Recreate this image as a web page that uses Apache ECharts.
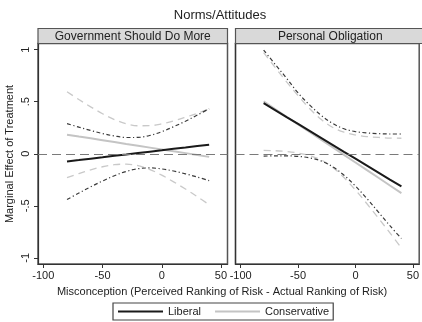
<!DOCTYPE html>
<html>
<head>
<meta charset="utf-8">
<script src="https://cdn.jsdelivr.net/npm/echarts@6/dist/echarts.min.js"></script>
<style>html,body{margin:0;padding:0;background:#fff;}#c{width:422px;height:322px;}</style>
</head>
<body>
<div id="c"></div>
<script>
// ---- data ----
const xs = [-80,-70,-60,-50,-40,-30,-20,-10,0,10,20,30,40];
// Panel 1: Government Should Do More
const govLib   = [-0.074,-0.061,-0.047,-0.034,-0.020,-0.007,0.007,0.020,0.033,0.047,0.060,0.074,0.087];
const govLibHi = [0.290,0.256,0.224,0.194,0.171,0.156,0.157,0.176,0.212,0.260,0.313,0.372,0.433];
const govLibLo = [-0.440,-0.378,-0.318,-0.262,-0.211,-0.170,-0.144,-0.136,-0.146,-0.166,-0.193,-0.224,-0.259];
const govCon   = [0.183,0.165,0.148,0.130,0.112,0.094,0.077,0.059,0.041,0.023,0.006,-0.012,-0.030];
const govConHi = [0.596,0.521,0.451,0.385,0.329,0.288,0.269,0.270,0.288,0.316,0.351,0.389,0.430];
const govConLo = [-0.230,-0.191,-0.155,-0.125,-0.105,-0.100,-0.115,-0.152,-0.206,-0.270,-0.339,-0.413,-0.490];
// Panel 2: Personal Obligation
const perLib   = [0.487,0.420,0.353,0.287,0.220,0.153,0.086,0.019,-0.047,-0.114,-0.181,-0.248,-0.314];
const perLibHi = [0.997,0.860,0.726,0.585,0.470,0.370,0.292,0.240,0.213,0.200,0.193,0.190,0.190];
const perLibLo = [-0.023,-0.020,-0.020,-0.025,-0.039,-0.069,-0.124,-0.206,-0.311,-0.431,-0.561,-0.692,-0.815];
const perCon   = [0.503,0.430,0.356,0.283,0.209,0.136,0.063,-0.011,-0.084,-0.158,-0.231,-0.305,-0.378];
const perConHi = [0.973,0.831,0.691,0.559,0.435,0.331,0.255,0.207,0.181,0.165,0.157,0.151,0.149];
const perConLo = [0.033,0.029,0.021,0.007,-0.017,-0.059,-0.129,-0.229,-0.349,-0.481,-0.619,-0.761,-0.905];

const panelTitles = ['Government Should Do More', 'Personal Obligation'];
const yTicks = [-1, -0.5, 0, 0.5, 1];
const yTickLabels = ['-1', '-.5', '0', '.5', '1'];
const xTicks = [-100, -50, 0, 50];
const seriesNames = ['Liberal', 'Conservative'];

// ---- chart ----
const FONT = '"Liberation Sans", Arial, Helvetica, sans-serif';
const pair = arr => xs.map((x, i) => [x, arr[i]]);
const chart = echarts.init(document.getElementById('c'), null, {renderer: 'canvas'});

const G = [
  {left: 38, top: 43.5, width: 189.5, height: 220.5},
  {left: 235.5, top: 43.5, width: 189.5, height: 220.5}
];

function xAxisFor(i) {
  return {
    type: 'value', gridIndex: i, min: -104.5, max: 55.5,
    axisLine: {show: true, onZero: false, lineStyle: {color: '#333', width: 1.2}},
    axisTick: {show: true, customValues: xTicks, length: 4, lineStyle: {color: '#333'}},
    axisLabel: {show: true, customValues: xTicks, margin: 6, fontSize: 11, color: '#222', fontFamily: FONT,
      formatter: v => String(v)},
    splitLine: {show: false}
  };
}
function yAxisFor(i) {
  return {
    type: 'value', gridIndex: i, min: -1.06, max: 1.06,
    axisLine: {show: true, onZero: false, lineStyle: {color: '#333', width: 1.2}},
    axisTick: {show: i === 0, customValues: yTicks, length: 4, lineStyle: {color: '#333'}},
    axisLabel: {show: i === 0, customValues: yTicks, rotate: 90, margin: 7, fontSize: 11, color: '#222', fontFamily: FONT,
      formatter: v => { const k = yTicks.findIndex(t => Math.abs(t - v) < 1e-6); return k >= 0 ? yTickLabels[k] : ''; }},
    splitLine: {show: false}
  };
}

const series = [];
const panels = [
  {lib: govLib, libHi: govLibHi, libLo: govLibLo, con: govCon, conHi: govConHi, conLo: govConLo},
  {lib: perLib, libHi: perLibHi, libLo: perLibLo, con: perCon, conHi: perConHi, conLo: perConLo}
];
panels.forEach((p, i) => {
  const base = {type: 'line', xAxisIndex: i, yAxisIndex: i, showSymbol: false, symbol: 'none', silent: true, animation: false};
  // zero reference line
  series.push(Object.assign({}, base, {
    name: 'zero' + i, data: [],
    markLine: {silent: true, symbol: ['none', 'none'], label: {show: false},
      lineStyle: {color: '#7a7a7a', width: 1.2, type: [9, 5]}, data: [{yAxis: 0}]}
  }));
  // Conservative CI (light gray dashed)
  ['conHi', 'conLo'].forEach(k => series.push(Object.assign({}, base, {
    name: 'ConsCI' + i + k, data: pair(p[k]), smooth: 0.35,
    lineStyle: {color: '#c9c9c9', width: 1.3, type: [7, 5]}, itemStyle: {color: '#c9c9c9'}
  })));
  // Liberal CI (dark dash-dot)
  ['libHi', 'libLo'].forEach(k => series.push(Object.assign({}, base, {
    name: 'LibCI' + i + k, data: pair(p[k]), smooth: 0.35,
    lineStyle: {color: '#3a3a3a', width: 1.2, type: [4, 2.5, 1.2, 2.5]}, itemStyle: {color: '#3a3a3a'}
  })));
  // Means
  series.push(Object.assign({}, base, {
    name: seriesNames[1], data: pair(p.con),
    lineStyle: {color: '#c4c4c4', width: 2}, itemStyle: {color: '#c4c4c4'}
  }));
  series.push(Object.assign({}, base, {
    name: seriesNames[0], data: pair(p.lib),
    lineStyle: {color: '#1a1a1a', width: 2}, itemStyle: {color: '#1a1a1a'}
  }));
});

const graphics = [];
G.forEach((g, i) => {
  graphics.push({
    type: 'rect', shape: {x: g.left, y: 28.5, width: g.width, height: 15},
    style: {fill: '#d9d9d9', stroke: '#555', lineWidth: 1.2}, z: 10
  });
  graphics.push({
    type: 'text', x: g.left + g.width / 2, y: 36.5,
    style: {text: panelTitles[i], fontSize: 12, fontFamily: FONT, fill: '#222', align: 'center', verticalAlign: 'middle'}, z: 11
  });
});
graphics.push({type: 'text', x: 220, y: 15,
  style: {text: 'Norms/Attitudes', fontSize: 13, fontFamily: FONT, fill: '#222', align: 'center', verticalAlign: 'middle'}});
graphics.push({type: 'text', x: 222, y: 292,
  style: {text: 'Misconception (Perceived Ranking of Risk - Actual Ranking of Risk)', fontSize: 11, fontFamily: FONT, fill: '#222', align: 'center', verticalAlign: 'middle'}});
graphics.push({type: 'text', x: 10, y: 154, rotation: Math.PI / 2,
  style: {text: 'Marginal Effect of Treatment', fontSize: 11, fontFamily: FONT, fill: '#222', align: 'center', verticalAlign: 'middle'}});

chart.setOption({
  animation: false,
  backgroundColor: '#fff',
  grid: G.map(g => Object.assign({show: true, borderColor: '#555', borderWidth: 1.5, backgroundColor: '#fff'}, g)),
  xAxis: [xAxisFor(0), xAxisFor(1)],
  yAxis: [yAxisFor(0), yAxisFor(1)],
  legend: {
    data: seriesNames, left: 113, top: 303, icon: 'rect', itemWidth: 45, itemHeight: 2, itemGap: 14,
    padding: [3, 4, 3, 5], borderColor: '#444', borderWidth: 1.2, borderRadius: 0,
    textStyle: {fontSize: 11, fontFamily: FONT, color: '#222'},
    selectedMode: false
  },
  graphic: graphics,
  series: series
});
</script>
</body>
</html>
